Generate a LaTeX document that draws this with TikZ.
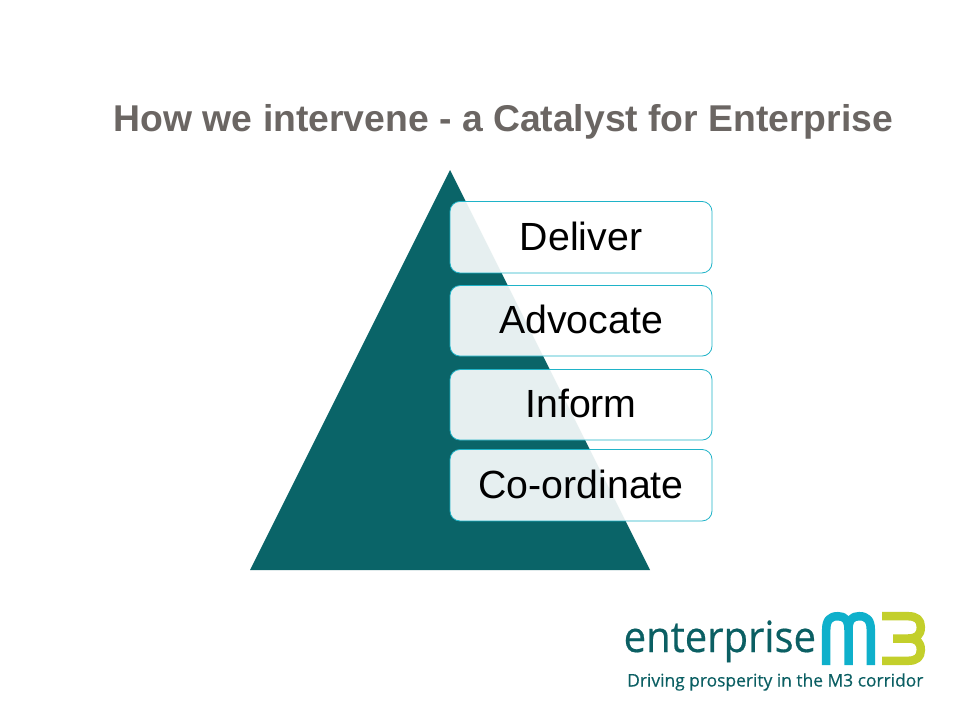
\documentclass[tikz,border=0pt]{standalone}
\usepackage{fontspec}
\setmainfont{Liberation Sans}
\newfontfamily\logofont{Open Sans}
\newfontfamily\brandfont[FakeStretch=0.93,FakeBold=0.4]{Open Sans}
\newfontfamily\tagfont[FakeBold=0.3]{Open Sans}
\definecolor{teal1}{HTML}{0A6468}
\definecolor{edge1}{HTML}{1FB3C8}
\definecolor{titlegrey}{HTML}{6B6663}
\definecolor{logoblue}{HTML}{0FB0CB}
\definecolor{logolime}{HTML}{C3CF2B}
\definecolor{logoteal}{HTML}{0B5F63}
\tikzset{
  tier/.style={draw=edge1,line width=0.8pt,fill=white,fill opacity=0.9,text opacity=1,rounded corners=10pt,
    minimum width=262pt,inner sep=0pt,font=\fontsize{39.3}{42}\selectfont,text=black},
  mstroke/.style={draw=logoblue,line width=8.5pt,line cap=butt,line join=round},
  tstroke/.style={draw=logolime,line width=8.5pt,line cap=butt,line join=round}
}
\begin{document}
\begin{tikzpicture}[x=1pt,y=-1pt]
\useasboundingbox (0,0) rectangle (960,720);
\fill[white] (0,0) rectangle (960,720);
\node[text=titlegrey,font=\fontsize{37.3}{40}\selectfont\bfseries,anchor=base] (title) at (503.5,131) {How we intervene - a Catalyst for Enterprise};
\fill[teal1] (450,170) -- (650,570) -- (250,570) -- cycle;
\node[tier,minimum height=71.5pt] (deliver) at (581,237.2) {\raisebox{2.5pt}{Deliver}};
\node[tier,minimum height=70.5pt] (advocate) at (581,320.8) {\raisebox{2.5pt}{Advocate}};
\node[tier,minimum height=70.5pt] (inform) at (581,404.8) {\raisebox{2.5pt}{Inform}};
\node[tier,minimum height=71.5pt] (coord) at (581,485.2) {\raisebox{2.5pt}{Co-ordinate}};
% logo
\node[anchor=base west,inner sep=0pt,text=logoteal,font=\brandfont\fontsize{43}{46}\selectfont] (brand) at (623.5,652) {enterprise};
\node[anchor=base west,inner sep=0pt,text=logoteal,font=\tagfont\fontsize{17.4}{20}\selectfont] (tag) at (627,686.5) {Driving prosperity in the M3 corridor};
\draw[mstroke] (826.2,665) -- (826.2,630) .. controls (826.2,620) and (830,616.2) .. (838,616.2) .. controls (845,616.2) and (848.5,620) .. (848.5,630) -- (848.5,665);
\draw[mstroke] (848.5,630) .. controls (848.5,620) and (852,616.2) .. (859,616.2) .. controls (867,616.2) and (870.8,620) .. (870.8,630) -- (870.8,665);
\draw[tstroke] (882,616.2) -- (908,616.2) .. controls (917,616.2) and (920.8,620) .. (920.8,627) .. controls (920.8,635) and (917,638.5) .. (908,638.5) -- (893,638.5);
\draw[tstroke] (908,638.5) .. controls (917,638.5) and (920.8,642) .. (920.8,650) .. controls (920.8,657) and (917,660.8) .. (908,660.8) -- (882,660.8);
\end{tikzpicture}
\end{document}
